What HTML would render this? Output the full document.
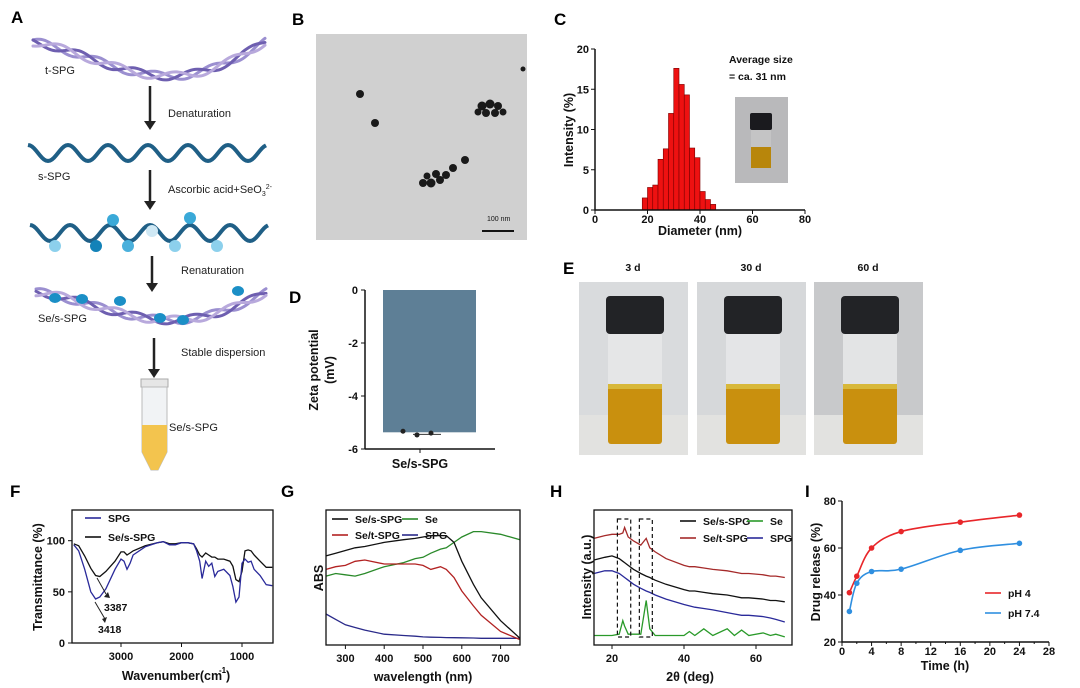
<!DOCTYPE html>
<html><head><meta charset="utf-8"><style>
html,body{margin:0;padding:0;background:#fff;}
svg{display:block;font-family:"Liberation Sans",Arial,sans-serif;}
.lb{font-size:11px;fill:#222}
.pl{font-size:17px;font-weight:bold;fill:#000}
.tk{font-size:11px;font-weight:bold;fill:#111}
.at{font-size:12.5px;font-weight:bold;fill:#111}
.lg{font-size:10.5px;font-weight:bold;fill:#111}
</style></head><body>
<svg id="s" width="1080" height="688" viewBox="0 0 1080 688">
<g>
<text class="pl" x="11" y="23">A</text><text class="pl" x="292" y="25">B</text><text class="pl" x="554" y="25">C</text>
<text class="pl" x="289" y="303">D</text><text class="pl" x="563" y="274">E</text><text class="pl" x="10" y="497">F</text>
<text class="pl" x="281" y="497">G</text><text class="pl" x="550" y="497">H</text><text class="pl" x="805" y="497">I</text>
</g>
<g id="schem">
<text class="lb" x="45" y="74">t-SPG</text>
<text class="lb" x="168" y="117">Denaturation</text>
<text class="lb" x="38" y="180">s-SPG</text>
<text class="lb" x="168" y="193">Ascorbic acid+SeO<tspan font-size="7" dy="3">3</tspan><tspan font-size="7" dy="-7">2-</tspan></text>
<text class="lb" x="181" y="274">Renaturation</text>
<text class="lb" x="38" y="322">Se/s-SPG</text>
<text class="lb" x="181" y="356">Stable dispersion</text>
<text class="lb" x="169" y="431">Se/s-SPG</text>
</g>
<g>
<rect x="316" y="34" width="211" height="206" fill="#c9c9c9"/>
<rect x="316" y="34" width="211" height="206" fill="#d8d8d8" opacity="0.5"/>
<g fill="#1a1a1a">
<circle cx="360" cy="94" r="4"/><circle cx="375" cy="123" r="4"/><circle cx="523" cy="69" r="2.5"/>
<circle cx="482" cy="106" r="4.5"/><circle cx="490" cy="104" r="4.5"/><circle cx="498" cy="106" r="4"/><circle cx="486" cy="113" r="4"/><circle cx="495" cy="113" r="4"/><circle cx="503" cy="112" r="3.5"/><circle cx="478" cy="112" r="3.5"/>
<circle cx="423" cy="183" r="4"/><circle cx="431" cy="183" r="4.5"/><circle cx="440" cy="180" r="4"/><circle cx="436" cy="174" r="4"/><circle cx="446" cy="175" r="4"/><circle cx="453" cy="168" r="4"/><circle cx="465" cy="160" r="4"/><circle cx="427" cy="176" r="3.5"/>
</g>
<text x="487" y="221" font-size="7" fill="#111">100 nm</text>
<line x1="482" y1="231" x2="514" y2="231" stroke="#111" stroke-width="2"/>
</g>
<g id="pc"></g>
<g id="pd"></g>
<g id="pe"></g>
<g id="pf"></g>
<g id="pg"></g>
<g id="ph"></g>
<g id="pi"></g>
</svg>
<script>
// ---- data ----
const dlsBins=[18,20,22,24,26,28,30,32,34,36,38,40,42,44];
const dlsVals=[1.5,2.8,3.1,6.3,7.6,12,17.6,15.6,14.3,7.7,6.5,2.3,1.3,0.7];
const zetaVal=-5.37;
const zetaPts=[-5.33,-5.47,-5.40];
const ftirX=[3780,3700,3600,3500,3420,3350,3250,3100,3000,2950,2900,2850,2800,2600,2400,2300,2200,2100,2000,1900,1800,1750,1700,1660,1600,1550,1500,1450,1400,1300,1200,1150,1100,1050,1000,950,900,850,800,700,600,500];
const ftirSPG=[96,90,72,50,43,45,53,72,82,80,72,78,86,94,98,99,96,96,98,98,97,90,80,63,80,75,78,65,70,72,66,55,40,45,78,82,79,80,72,66,57,56];
const ftirSe=[97,95,85,73,66,65,70,80,89,89,86,88,90,95,98,99,97,97,98,98,97,92,86,84,88,86,84,84,82,82,80,75,62,60,70,90,91,90,86,80,74,74];
const uvX=[250,275,300,325,350,400,450,480,500,520,545,560,580,600,630,650,700,750];
const uvSeS=[0.66,0.68,0.70,0.72,0.73,0.76,0.78,0.79,0.80,0.81,0.81,0.81,0.76,0.62,0.45,0.35,0.18,0.05];
const uvSeT=[0.56,0.58,0.59,0.62,0.63,0.60,0.60,0.60,0.59,0.56,0.58,0.56,0.50,0.40,0.29,0.22,0.10,0.04];
const uvSe=[0.51,0.53,0.52,0.51,0.53,0.58,0.61,0.64,0.65,0.68,0.71,0.72,0.76,0.80,0.84,0.84,0.82,0.78];
const uvSPG=[0.23,0.19,0.15,0.13,0.11,0.08,0.07,0.065,0.06,0.058,0.056,0.055,0.054,0.053,0.052,0.05,0.05,0.05];
const xrdX=[15,18,20,22,23,23.5,24.5,26,28,29.5,30.5,32,35,40,41.5,43,45.5,48,52,54,56,58,62,64,65.5,68];
const xrdSeT=[0.79,0.81,0.82,0.82,0.83,0.87,0.80,0.77,0.74,0.79,0.72,0.69,0.64,0.59,0.58,0.58,0.57,0.56,0.55,0.54,0.53,0.53,0.52,0.51,0.51,0.50];
const xrdSeS=[0.63,0.65,0.66,0.64,0.62,0.61,0.59,0.56,0.53,0.51,0.50,0.48,0.45,0.41,0.40,0.40,0.39,0.38,0.37,0.36,0.35,0.35,0.34,0.33,0.33,0.32];
const xrdSPG=[0.53,0.55,0.55,0.53,0.51,0.50,0.48,0.45,0.42,0.40,0.39,0.37,0.34,0.30,0.29,0.28,0.27,0.26,0.24,0.23,0.22,0.22,0.21,0.20,0.19,0.17];
const xrdSe=[0.07,0.07,0.07,0.08,0.18,0.14,0.08,0.08,0.08,0.33,0.12,0.07,0.07,0.07,0.10,0.07,0.12,0.07,0.12,0.07,0.11,0.07,0.09,0.07,0.08,0.06];
const relT=[1,2,4,8,16,24];
const relPH4=[41,48,60,67,71,74];
const relPH74=[33,45,50,51,59,62];

const NS="http://www.w3.org/2000/svg";
function el(p,t,a,txt){const e=document.createElementNS(NS,t);for(const k in a)e.setAttribute(k,a[k]);if(txt!==undefined)e.textContent=txt;p.appendChild(e);return e;}
function lin(d0,d1,r0,r1){return v=>r0+(v-d0)*(r1-r0)/(d1-d0);}
function pts(xs,ys,sx,sy){return xs.map((x,i)=>sx(x).toFixed(1)+","+sy(ys[i]).toFixed(1)).join(" ");}
function smooth(xs,ys,sx,sy){const P=xs.map((x,i)=>[sx(x),sy(ys[i])]);let d="M"+P[0];for(let i=0;i<P.length-1;i++){const p0=P[i-1]||P[i],p1=P[i],p2=P[i+1],p3=P[i+2]||p2;const c1=[p1[0]+(p2[0]-p0[0])/6,p1[1]+(p2[1]-p0[1])/6],c2=[p2[0]-(p3[0]-p1[0])/6,p2[1]-(p3[1]-p1[1])/6];d+=" C"+c1+" "+c2+" "+p2;}return d;}

// ---- Schematic A ----
(function(){
const g=document.getElementById('schem');
function helix(y0,dip,x0,x1,cols){
  for(let k=0;k<3;k++){let d="";for(let x=x0;x<=x1;x+=2){const t=(x-x0)/(x1-x0);const y=y0+dip*Math.sin(Math.PI*Math.pow(t,1.3))+4*Math.sin(x/9+k*2.1);d+=(d?"L":"M")+x+","+y.toFixed(1);}
  const p=el(g,'path',{d:d,fill:"none",stroke:cols[k],"stroke-width":3,"stroke-linecap":"round"});
  
  }
}
helix(42,34,33,265,["#9b8fd0","#6e5fb0","#b8a9dc"]);
helix(292,28,36,267,["#9b8fd0","#6e5fb0","#b8a9dc"]);
[[82,299],[120,301],[238,291],[183,320],[160,318],[55,298]].forEach(c=>{const e=el(g,'ellipse',{cx:c[0],cy:c[1],rx:6,ry:5,fill:"#1b8fc6"});});
function wave(y,x0,x1){let d="";for(let x=x0;x<=x1;x+=2){d+=(d?"L":"M")+x+","+(y-8*Math.sin((x-x0)/40*2*Math.PI+1.57)).toFixed(1);}const p=el(g,'path',{d:d,fill:"none",stroke:"#1f5f86","stroke-width":4});}
wave(153,28,266);wave(233,30,268);
[[113,220,"#3aa9d8"],[190,218,"#3aa9d8"],[152,231,"#cfe8f4"],[55,246,"#8cd0ec"],[96,246,"#1382b8"],[128,246,"#4ab0dc"],[175,246,"#8cd0ec"],[217,246,"#8cd0ec"]].forEach(c=>{const e=el(g,'circle',{cx:c[0],cy:c[1],r:6,fill:c[2]});});
[[150,86,130],[150,170,210],[152,256,292],[154,338,378]].forEach(a=>{const e=el(g,'path',{d:`M${a[0]},${a[1]}V${a[2]-8}`,stroke:"#222","stroke-width":2.5});
el(g,'path',{d:`M${a[0]-6},${a[2]-9}L${a[0]+6},${a[2]-9}L${a[0]},${a[2]}Z`,fill:"#222"});});
const t=el(g,'g',{});
el(t,'rect',{x:141,y:379,width:27,height:8,fill:"#e6e6e6",stroke:"#aaa"});
el(t,'path',{d:"M142,387H167V452L158,470H151L142,452Z",fill:"#f1f3f5",stroke:"#bbb"});
el(t,'path',{d:"M142,425H167V452L158,470H151L142,452Z",fill:"#f3c44e"});
})();

// ---- C ----
(function(){const g=document.getElementById('pc');const sx=lin(0,80,595,805),sy=lin(0,20,210,49);
dlsBins.forEach((b,i)=>{const r=el(g,'rect',{x:sx(b),y:sy(dlsVals[i]),width:sx(b+2)-sx(b),height:sy(0)-sy(dlsVals[i]),fill:"#ee1111",stroke:"#7a0000","stroke-width":0.6});});
el(g,'path',{d:`M${sx(0)},${sy(20)}V${sy(0)}H${sx(80)}`,fill:"none",stroke:"#111","stroke-width":1.5});
[0,5,10,15,20].forEach(v=>{el(g,'line',{x1:sx(0)-4,x2:sx(0),y1:sy(v),y2:sy(v),stroke:"#111"});el(g,'text',{class:"tk",x:sx(0)-6,y:sy(v)+4,"text-anchor":"end"},v);});
[0,20,40,60,80].forEach(v=>{el(g,'line',{x1:sx(v),x2:sx(v),y1:sy(0),y2:sy(0)+4,stroke:"#111"});el(g,'text',{class:"tk",x:sx(v),y:sy(0)+13,"text-anchor":"middle"},v);});
el(g,'text',{class:"at",x:sx(40),y:235,"text-anchor":"middle"},"Diameter (nm)");
el(g,'text',{class:"at",transform:`translate(573,130) rotate(-90)`,"text-anchor":"middle"},"Intensity (%)");
el(g,'text',{class:"lg",x:729,y:63},"Average size");
el(g,'text',{class:"lg",x:729,y:80},"= ca. 31 nm");
el(g,'rect',{x:735,y:97,width:53,height:86,fill:"#b9b9bb"});
el(g,'rect',{x:750,y:113,width:22,height:17,fill:"#1a1a1e",rx:2});
el(g,'rect',{x:751,y:130,width:20,height:38,fill:"#cfcfcf",opacity:0.5});
el(g,'rect',{x:751,y:147,width:20,height:21,fill:"#b8860b"});
})();

// ---- D ----
(function(){const g=document.getElementById('pd');const sy=lin(0,-6,290,449);
const r=el(g,'rect',{x:383,y:sy(0),width:93,height:sy(zetaVal)-sy(0),fill:"#5e7f96"});
el(g,'line',{x1:365,x2:365,y1:sy(0),y2:sy(-6),stroke:"#111","stroke-width":1.5});
el(g,'line',{x1:365,x2:495,y1:sy(-6),y2:sy(-6),stroke:"#111","stroke-width":1.5});
el(g,'line',{x1:420,x2:420,y1:sy(-6),y2:sy(-6)+4,stroke:"#111"});
[0,-2,-4,-6].forEach(v=>{el(g,'line',{x1:361,x2:365,y1:sy(v),y2:sy(v),stroke:"#111"});el(g,'text',{class:"tk",x:358,y:sy(v)+4,"text-anchor":"end"},v);});
el(g,'line',{x1:413,x2:441,y1:sy(zetaVal-0.08),y2:sy(zetaVal-0.08),stroke:"#333"});
zetaPts.forEach((v,i)=>{const c=el(g,'circle',{cx:403+i*14,cy:sy(v),r:2.5,fill:"#222"});});
el(g,'text',{class:"at",x:420,y:468,"text-anchor":"middle"},"Se/s-SPG");
el(g,'text',{class:"at",transform:"translate(318,370) rotate(-90)","text-anchor":"middle"},"Zeta potential");
el(g,'text',{class:"at",transform:"translate(334,370) rotate(-90)","text-anchor":"middle"},"(mV)");
})();

// ---- E ----
(function(){const g=document.getElementById('pe');[["3 d",579,"#d9dbdd"],["30 d",697,"#d6d8da"],["60 d",814,"#c8c9cb"]].forEach(v=>{const x=v[1];
const c=el(g,'g',{});
el(c,'text',{x:x+54,y:271,"text-anchor":"middle",class:"lg"},v[0]);
el(c,'rect',{x:x,y:282,width:109,height:173,fill:v[2]});
el(c,'rect',{x:x,y:415,width:109,height:40,fill:"#e2e2e0"});
el(c,'rect',{x:x+27,y:296,width:58,height:38,fill:"#222326",rx:4});
el(c,'rect',{x:x+29,y:334,width:54,height:52,fill:"#e6e7e8",opacity:0.9});
el(c,'rect',{x:x+29,y:386,width:54,height:58,fill:"#c9900e",rx:3});
el(c,'rect',{x:x+29,y:384,width:54,height:5,fill:"#d8b83a"});});})();

function box(g,x0,y0,x1,y1){el(g,'rect',{x:x0,y:y0,width:x1-x0,height:y1-y0,fill:"none",stroke:"#111","stroke-width":1.3});}
function line(g,xs,ys,sx,sy,col,name,w){const p=el(g,'polyline',{points:pts(xs,ys,sx,sy),fill:"none",stroke:col,"stroke-width":w||1.3});}
function leg(g,x,y,col,txt){el(g,'line',{x1:x,x2:x+16,y1:y,y2:y,stroke:col,"stroke-width":1.6});el(g,'text',{class:"lg",x:x+23,y:y+4},txt);}

// ---- F ----
(function(){const g=document.getElementById('pf');
const sx=lin(3000,1000,121,242);const sy=lin(0,130,643,510);
line(g,ftirX,ftirSe,sx,sy,"#111","ftir-se-s-spg-line");line(g,ftirX,ftirSPG,sx,sy,"#2a2a9a","ftir-spg-line");
box(g,72,510,273,643);
[0,50,100].forEach(v=>{el(g,'line',{x1:68,x2:72,y1:sy(v),y2:sy(v),stroke:"#111"});el(g,'text',{class:"tk",x:65,y:sy(v)+4,"text-anchor":"end"},v);});
[3000,2000,1000].forEach(v=>{el(g,'line',{x1:sx(v),x2:sx(v),y1:643,y2:647,stroke:"#111"});el(g,'text',{class:"tk",x:sx(v),y:660,"text-anchor":"middle"},v);});
el(g,'text',{class:"at",x:172,y:680,"text-anchor":"middle"},"Wavenumber(cm");el(g,'text',{x:219,y:673,"font-size":8,"font-weight":"bold"},"-1");el(g,'text',{class:"at",x:226,y:680},")");
el(g,'text',{class:"at",transform:"translate(42,577) rotate(-90)","text-anchor":"middle"},"Transmittance (%)");
leg(g,85,518,"#2a2a9a","SPG");leg(g,85,537,"#111","Se/s-SPG");
el(g,'line',{x1:97,x2:106,y1:578,y2:594,stroke:"#222"});el(g,'path',{d:"M104,597l6,1l-2,-6z",fill:"#222"});
el(g,'line',{x1:95,x2:105,y1:602,y2:619,stroke:"#222"});el(g,'path',{d:"M105,623l2,-6l-5,2z",fill:"#222"});
el(g,'text',{class:"lg",x:104,y:611},"3387");el(g,'text',{class:"lg",x:98,y:633},"3418");
})();

// ---- G ----
(function(){const g=document.getElementById('pg');const sx=lin(250,750,326,520),sy=lin(0,1,645,510);
line(g,uvX,uvSPG,sx,sy,"#2a2a8a","uv-spg-line");line(g,uvX,uvSe,sx,sy,"#2a8a2a","uv-se-line");line(g,uvX,uvSeT,sx,sy,"#b22222","uv-se-t-spg-line");line(g,uvX,uvSeS,sx,sy,"#111","uv-se-s-spg-line");
box(g,326,510,520,645);
[300,400,500,600,700].forEach(v=>{el(g,'line',{x1:sx(v),x2:sx(v),y1:645,y2:649,stroke:"#111"});el(g,'text',{class:"tk",x:sx(v),y:662,"text-anchor":"middle"},v);});
el(g,'text',{class:"at",x:423,y:681,"text-anchor":"middle"},"wavelength (nm)");
el(g,'text',{class:"at",transform:"translate(323,578) rotate(-90)","text-anchor":"middle"},"ABS");
leg(g,332,519,"#111","Se/s-SPG");leg(g,402,519,"#2a8a2a","Se");leg(g,332,535,"#b22222","Se/t-SPG");leg(g,402,535,"#2a2a8a","SPG");
})();

// ---- H ----
(function(){const g=document.getElementById('ph');const sx=lin(20,60,612,756),sy=lin(0,1,645,510);
line(g,xrdX,xrdSe,sx,sy,"#2a9a2a","xrd-se-line");line(g,xrdX,xrdSPG,sx,sy,"#2a2a9a","xrd-spg-line");line(g,xrdX,xrdSeS,sx,sy,"#111","xrd-se-s-spg-line");line(g,xrdX,xrdSeT,sx,sy,"#a52a2a","xrd-se-t-spg-line");
[[21.5,25.2],[27.6,31.2]].forEach(b=>{el(g,'rect',{x:sx(b[0]),y:519,width:sx(b[1])-sx(b[0]),height:118,fill:"none",stroke:"#111","stroke-dasharray":"4,3","stroke-width":1.2});});
box(g,594,510,792,645);
[20,40,60].forEach(v=>{el(g,'line',{x1:sx(v),x2:sx(v),y1:645,y2:649,stroke:"#111"});el(g,'text',{class:"tk",x:sx(v),y:662,"text-anchor":"middle"},v);});
el(g,'text',{class:"at",x:690,y:681,"text-anchor":"middle"},"2θ (deg)");
el(g,'text',{class:"at",transform:"translate(591,577) rotate(-90)","text-anchor":"middle"},"Intensity (a.u.)");
leg(g,680,521,"#111","Se/s-SPG");leg(g,747,521,"#2a9a2a","Se");leg(g,680,538,"#a52a2a","Se/t-SPG");leg(g,747,538,"#2a2a9a","SPG");
})();

// ---- I ----
(function(){const g=document.getElementById('pi');const sx=lin(0,28,842,1049),sy=lin(20,80,642,501);
[[relPH4,"#e8262a","ph4"],[relPH74,"#2f8fe0","ph74"]].forEach(s=>{const p=el(g,'path',{d:smooth(relT,s[0],sx,sy),fill:"none",stroke:s[1],"stroke-width":1.6});
relT.forEach((t,i)=>{const c=el(g,'circle',{cx:sx(t),cy:sy(s[0][i]),r:2.8,fill:s[1]});});});
el(g,'path',{d:`M${sx(0)},${sy(80)}V${sy(20)}H${sx(28)}`,fill:"none",stroke:"#111","stroke-width":1.4});
[20,40,60,80].forEach(v=>{el(g,'line',{x1:sx(0)-4,x2:sx(0),y1:sy(v),y2:sy(v),stroke:"#111"});el(g,'text',{class:"tk",x:sx(0)-6,y:sy(v)+4,"text-anchor":"end"},v);});
for(let v=0;v<=28;v+=2){el(g,'line',{x1:sx(v),x2:sx(v),y1:sy(20),y2:sy(20)+(v%4?2:4),stroke:"#111"});}
[0,4,8,12,16,20,24,28].forEach(v=>el(g,'text',{class:"tk",x:sx(v),y:655,"text-anchor":"middle"},v));
el(g,'text',{class:"at",x:945,y:670,"text-anchor":"middle"},"Time (h)");
el(g,'text',{class:"at",transform:"translate(820,572) rotate(-90)","text-anchor":"middle"},"Drug release (%)");
leg(g,985,593,"#e8262a","pH 4");leg(g,985,613,"#2f8fe0","pH 7.4");
})();
</script>
</body></html>
